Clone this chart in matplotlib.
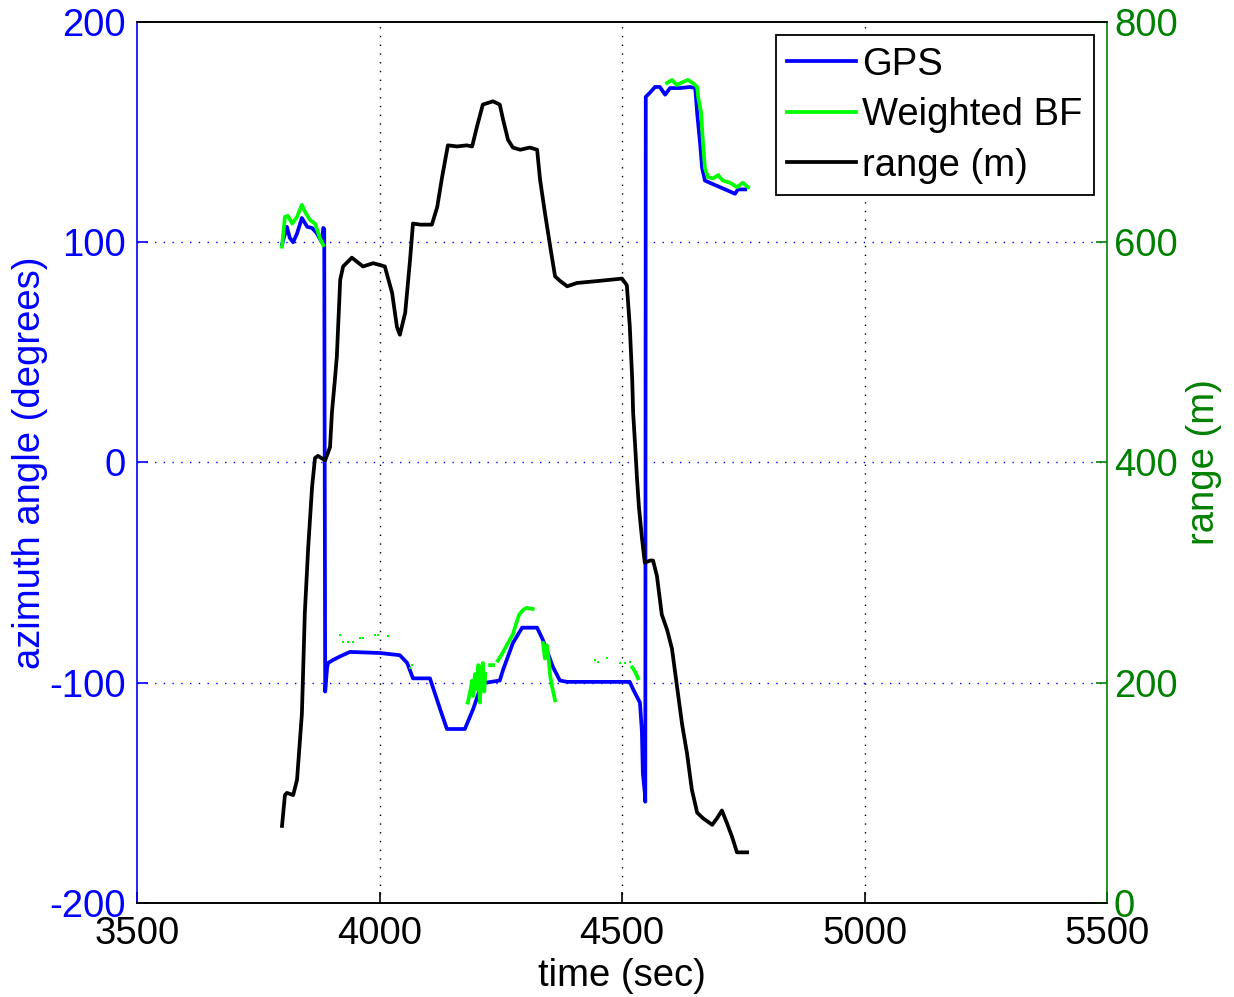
import numpy as np
import matplotlib
matplotlib.use("Agg")
import matplotlib.pyplot as plt

plt.rcParams["font.family"] = ["Liberation Sans", "DejaVu Sans"]
plt.rcParams["font.size"] = 27.5
plt.rcParams["axes.unicode_minus"] = False

nan = np.nan

# GPS azimuth (degrees) vs time (sec)
gps_t = [3799, 3809, 3815, 3822, 3830, 3840, 3851, 3861, 3871, 3881, 3884, 3886,
         3888, 3892, 3894, 3904, 3919, 3939, 4001, 4042, 4057, 4069, 4104, 4110,
         4125, 4139, 4176, 4193, 4207, 4218, 4248, 4255, 4275, 4294, 4325, 4337,
         4358, 4372, 4387, 4516, 4523, 4537, 4541, 4543, 4547, 4548, 4549, 4558,
         4568, 4578, 4589, 4599, 4620, 4640, 4651, 4655, 4661, 4665, 4671, 4681,
         4702, 4723, 4733, 4739, 4754]
gps_az = [99, 107, 102, 100, 104, 111, 107, 106.5, 104, 100, 106.5, 106,
          -104, -93, -91, -89.7, -88, -86, -86.5, -87.5, -91, -98, -98, -102,
          -112, -121, -121, -112, -103, -100, -99, -94, -82, -75, -75, -80.6,
          -93, -99, -99.6, -99.6, -103, -109, -122, -141, -150, -154, 166, 168,
          170.5, 170.5, 167, 170, 170, 170.5, 170, 158.6, 145, 134, 128, 127,
          125, 123, 122, 124, 124]

# Weighted BF azimuth, gaps as nan
bf_t = [3799, 3805, 3811, 3820, 3830, 3840, 3846, 3857, 3867, 3877, 3884, nan,
        4182, 4187, 4191, 4193, 4197, 4201, 4204, 4207, 4210, 4213, 4216, 4218, nan,
        4228, 4234, nan,
        4244, 4255, 4265, 4275, 4282, 4288, 4296, 4303, 4316, nan,
        4337, 4341, 4345, 4349, 4352, 4356, 4362, nan,
        4521, 4527, 4533, nan,
        4593, 4603, 4613, 4626, 4636, 4646, 4655, 4657, 4663, 4667, 4671, 4677,
        4688, 4698, 4708, 4723, 4737, 4749, 4760]
bf_az = [98, 111.5, 112, 108.5, 111.5, 117, 114, 110, 108.5, 102, 98.7, nan,
         -109, -104, -99, -106, -96, -103, -92, -109, -95, -91, -104, -96, nan,
         -92, -92, nan,
         -90, -86, -82, -78, -73, -69, -67, -66, -66.5, nan,
         -82, -89, -83, -90, -97, -102, -108, nan,
         -93, -95, -98, nan,
         172.3, 173.7, 171.4, 172.8, 173.7, 172.3, 170.5, 166, 159, 145, 133.7, 129.6,
         129, 130.5, 128, 127, 125, 127, 125]

# isolated Weighted BF samples
bf_dot_t = [3919, 3925, 3935, 3945, 3960, 3966, 3991, 3997, 4018, 4063, 4067,
            4444, 4451, 4469, 4496, 4506, 4516]
bf_dot_az = [-78.3, -81.5, -81.5, -81.5, -79.7, -79.7, -78.3, -78.3, -79, -93.3, -92,
             -89.7, -90.5, -88.8, -91, -91, -90.5]

# range (m)
rng_t = [3799, 3805, 3809, 3822, 3830, 3840, 3846, 3853, 3861, 3867, 3873, 3888,
         3898, 3902, 3908, 3912, 3919, 3925, 3943, 3966, 3987, 4011, 4026, 4036,
         4042, 4053, 4063, 4069, 4084, 4108, 4119, 4129, 4141, 4160, 4180, 4191,
         4201, 4213, 4234, 4248, 4255, 4265, 4275, 4290, 4310, 4325, 4331, 4341,
         4352, 4362, 4372, 4387, 4407, 4455, 4500, 4510, 4516, 4521, 4523, 4527,
         4531, 4535, 4541, 4547, 4558, 4564, 4572, 4582, 4593, 4603, 4613, 4624,
         4634, 4644, 4655, 4667, 4686, 4696, 4706, 4716, 4727, 4737, 4758]
rng_m = [70, 98, 100, 98, 112, 172, 263, 323, 378, 404, 406, 402,
         414, 446, 475, 496, 566, 578, 586, 578, 581, 578, 554, 523,
         516, 536, 584, 617, 616, 616, 632, 659, 688, 687, 688, 687,
         705, 725, 728, 725, 711, 693, 686, 684, 686, 684, 657, 627,
         596, 569, 565, 560, 563, 565, 567, 561, 524, 476, 445, 416,
         385, 359, 332, 309, 311, 311, 297, 262, 248, 231, 198, 162,
         136, 103, 82, 77, 71, 77, 84, 73, 60, 46, 46]

x_ticks = [3500, 4000, 4500, 5000, 5500]
az_ticks = [-200, -100, 0, 100, 200]
rng_ticks = [0, 200, 400, 600, 800]

BLUE = (0, 0, 1)
GREEN = (0, 1, 0)
DKGREEN = (0, 0.5, 0)

fig = plt.figure(figsize=(12.34, 9.97), dpi=100)
ax = fig.add_axes([137 / 1234, 1 - 903 / 997, 970 / 1234, 881 / 997])
ax2 = ax.twinx()

h1, = ax.plot(gps_t, gps_az, color=BLUE, lw=2.7, label="GPS")
h2, = ax.plot(bf_t, bf_az, color=GREEN, lw=2.7, label="Weighted BF")
ax.plot(bf_dot_t, bf_dot_az, ls="none", marker="s", ms=2.0, color=GREEN, mew=0)
h3, = ax2.plot(rng_t, rng_m, color="black", lw=2.7, label="range (m)")

ax.set_xlim(3500, 5500)
ax.set_ylim(-200, 200)
ax2.set_ylim(0, 800)
ax.set_xticks(x_ticks)
ax.set_yticks(az_ticks)
ax2.set_yticks(rng_ticks)

# dotted grid: black verticals, blue horizontals
for xv in x_ticks[1:-1]:
    ax.axvline(xv, color="black", lw=1.0, ls=(0, (1, 5.3)), zorder=0.5)
for yv in az_ticks[1:-1]:
    ax.axhline(yv, color=BLUE, lw=1.0, ls=(0, (1, 5.3)), zorder=0.5)

ax.tick_params(axis="x", direction="in", length=8, width=1.2, colors="black", pad=9)
ax.tick_params(axis="y", direction="in", length=8, width=1.2, colors=BLUE, pad=8)
ax2.tick_params(axis="y", direction="in", length=8, width=1.2, colors=DKGREEN, pad=5)

for a in (ax, ax2):
    for s in a.spines.values():
        s.set_linewidth(1.2)
ax.spines["left"].set_color(BLUE)
ax2.spines["left"].set_visible(False)
ax2.spines["right"].set_color(DKGREEN)
ax.spines["right"].set_visible(False)

ax.set_xlabel("time (sec)", labelpad=5)
ax.set_ylabel("azimuth angle (degrees)", color=BLUE, labelpad=1)
ax2.set_ylabel("range (m)", color=DKGREEN, labelpad=6)

leg = ax2.legend(handles=[h1, h2, h3], loc="upper right", fancybox=False,
                 edgecolor="black", framealpha=1, handlelength=1.8,
                 handletextpad=0.15, borderpad=0.3, labelspacing=0.38,
                 borderaxespad=0.35)
leg.get_frame().set_linewidth(1.3)

fig.savefig("out.png", dpi=100)
